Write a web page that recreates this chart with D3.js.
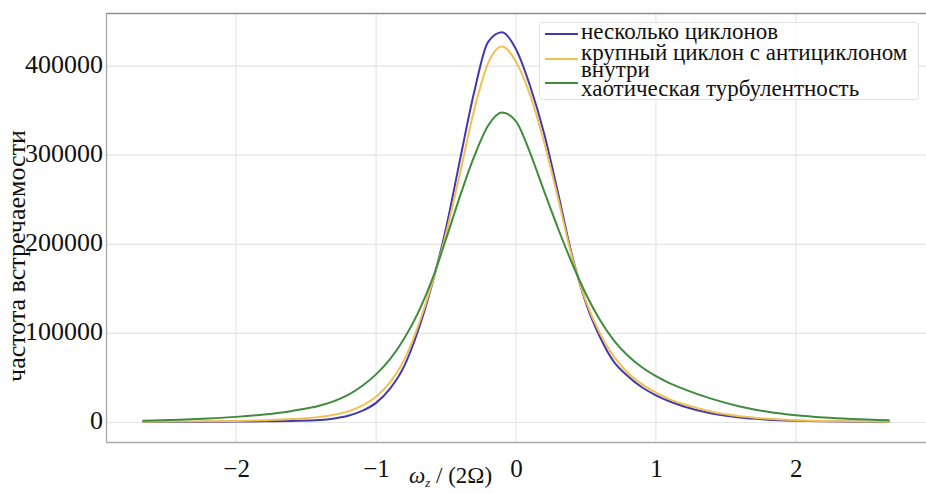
<!DOCTYPE html>
<html>
<head>
<meta charset="utf-8">
<script src="https://cdn.jsdelivr.net/npm/d3@7"></script>
<style>
  body { margin: 0; background: #fff; }
  svg text { font-family: "Liberation Serif", "DejaVu Serif", serif; }
</style>
</head>
<body>
<script>
// chart size
const width = 926;
const height = 494;

// x values (omega_z / 2Omega)
const xs = [-2.67, -2.4, -2.2, -2.0, -1.8, -1.6, -1.4, -1.3, -1.2, -1.1,
            -1.0, -0.9, -0.8, -0.7, -0.6, -0.5, -0.4, -0.3, -0.2, -0.1,
            0.0, 0.1, 0.2, 0.3, 0.4, 0.5, 0.6, 0.7, 0.8, 0.9,
            1.0, 1.1, 1.2, 1.4, 1.6, 1.8, 2.0, 2.2, 2.4, 2.67];

// frequencies, thousands
const severalCyclones = [0.5, 0.6, 0.8, 1.0, 1.3, 1.8, 2.8, 4.5, 7.5, 13,
                         22, 38, 63, 103, 155, 218, 295, 370, 427, 438,
                         419, 378, 325, 258, 188, 134, 96, 68, 52, 39.5,
                         30.5, 23.5, 18, 10, 5.5, 3.2, 2, 1.3, 0.9, 0.6];
const bigCyclone = [0.8, 1.0, 1.3, 1.7, 2.5, 3.8, 6.3, 8.7, 12.5, 19,
                    29, 45, 70, 108, 156, 212, 280, 350, 403, 422,
                    405, 368, 315, 252, 186, 136, 100, 74, 55.5, 43,
                    33.5, 26, 20.5, 12, 7, 4.2, 2.6, 1.7, 1.2, 0.8];
const chaotic = [2, 3.2, 4.5, 6.3, 9, 13, 19, 24, 31, 41,
                 54, 71, 94, 123, 160, 206, 254, 298, 333, 348,
                 338, 303, 260, 218, 179, 144, 115, 92, 75, 62,
                 52, 44, 37.5, 26.5, 18, 12, 8, 5.5, 3.9, 2.5];

const seriesNames = ['несколько циклонов', 'крупный циклон с антициклоном', 'хаотическая турбулентность'];
const seriesColors = ['#4338b0', '#f0c050', '#3f8c3f'];
const seriesValues = [severalCyclones, bigCyclone, chaotic];

const xTicks = [-2, -1, 0, 1, 2];
const yTicks = [0, 100000, 200000, 300000, 400000];

const serif = '"Liberation Serif", "DejaVu Serif", serif';
const margin = {left: 106, right: 0, top: 13, bottom: 52};

const x = d3.scaleLinear()
    .domain([-2.93, 2.93])
    .range([margin.left, width - margin.right]);

const y = d3.scaleLinear()
    .domain([-21900, 459600])
    .range([height - margin.bottom, margin.top]);

const svg = d3.select('body')
    .append('svg')
    .attr('width', width)
    .attr('height', height)
    .style('display', 'block');

// grid
svg.append('g')
    .selectAll('line')
    .data(yTicks)
    .enter().append('line')
    .attr('x1', margin.left).attr('x2', width - margin.right)
    .attr('y1', d => y(d)).attr('y2', d => y(d))
    .attr('stroke', '#e4e4e4')
    .attr('stroke-width', 1.2);

svg.append('g')
    .selectAll('line')
    .data(xTicks)
    .enter().append('line')
    .attr('x1', d => x(d)).attr('x2', d => x(d))
    .attr('y1', margin.top).attr('y2', height - margin.bottom)
    .attr('stroke', '#e4e4e4')
    .attr('stroke-width', 1.2);

// spines
svg.append('line')
    .attr('x1', margin.left).attr('x2', width)
    .attr('y1', margin.top + 0.5).attr('y2', margin.top + 0.5)
    .attr('stroke', '#8c8c8c').attr('stroke-width', 1.3);
svg.append('line')
    .attr('x1', margin.left + 0.5).attr('x2', margin.left + 0.5)
    .attr('y1', margin.top).attr('y2', height - margin.bottom)
    .attr('stroke', '#a8a8a8').attr('stroke-width', 1.3);
svg.append('line')
    .attr('x1', margin.left).attr('x2', width)
    .attr('y1', height - margin.bottom + 0.5).attr('y2', height - margin.bottom + 0.5)
    .attr('stroke', '#a8a8a8').attr('stroke-width', 1.3);

// axes (labels only)
const yAxis = svg.append('g')
    .attr('transform', `translate(${margin.left - 3},0)`)
    .call(d3.axisLeft(y).tickValues(yTicks).tickSize(0).tickPadding(0).tickFormat(d3.format('d')));
yAxis.select('.domain').remove();
yAxis.selectAll('text')
    .style('font-family', serif)
    .style('font-size', '26px')
    .attr('fill', '#111')
    .attr('dy', '0.25em');

const xAxis = svg.append('g')
    .attr('transform', `translate(0,${height - margin.bottom})`)
    .call(d3.axisBottom(x).tickValues(xTicks).tickSize(0).tickPadding(0).tickFormat(d3.format('d')));
xAxis.select('.domain').remove();
xAxis.selectAll('text')
    .style('font-family', serif)
    .style('font-size', '25px')
    .attr('fill', '#111')
    .attr('dy', null)
    .attr('y', 35);

// axis titles
svg.append('text')
    .attr('transform', 'translate(25,256) rotate(-90)')
    .attr('text-anchor', 'middle')
    .style('font-family', serif)
    .style('font-size', '26px')
    .attr('fill', '#111')
    .text('частота встречаемости');

const xLabel = svg.append('text')
    .attr('x', 409)
    .attr('y', 483)
    .style('font-family', serif)
    .style('font-size', '23px')
    .attr('fill', '#111');
xLabel.append('tspan').attr('font-style', 'italic').text('ω');
xLabel.append('tspan').attr('font-style', 'italic').style('font-size', '13px').attr('dy', 4).text('z');
xLabel.append('tspan').attr('dy', -4).text(' / (2Ω)');

// curves
const line = d3.line()
    .x((d, i) => x(xs[i]))
    .y(d => y(d * 1000))
    .curve(d3.curveMonotoneX);

svg.append('g')
    .selectAll('path')
    .data(seriesValues)
    .enter().append('path')
    .attr('fill', 'none')
    .attr('stroke', (d, i) => seriesColors[i])
    .attr('stroke-width', 2)
    .attr('stroke-linejoin', 'round')
    .attr('d', line);

// legend
const legend = svg.append('g');
legend.append('rect')
    .attr('x', 539.5).attr('y', 22.5)
    .attr('width', 379).attr('height', 77)
    .attr('rx', 3)
    .attr('fill', 'rgba(255,255,255,0.85)')
    .attr('stroke', '#e2e2e2');

const handleY = [34, 59, 83];
legend.selectAll('line')
    .data(seriesColors)
    .enter().append('line')
    .attr('x1', 545).attr('x2', 578)
    .attr('y1', (d, i) => handleY[i]).attr('y2', (d, i) => handleY[i])
    .attr('stroke', d => d)
    .attr('stroke-width', 2);

// second name wraps onto two rows, like the original
const legendRows = [
    {text: seriesNames[0], y: 39},
    {text: 'крупный циклон с антициклоном', y: 60},
    {text: 'внутри', y: 77},
    {text: seriesNames[2], y: 96}
];
legend.selectAll('text')
    .data(legendRows)
    .enter().append('text')
    .attr('x', 581)
    .attr('y', d => d.y)
    .style('font-family', serif)
    .style('font-size', '23px')
    .attr('fill', '#111')
    .text(d => d.text);
</script>
</body>
</html>
